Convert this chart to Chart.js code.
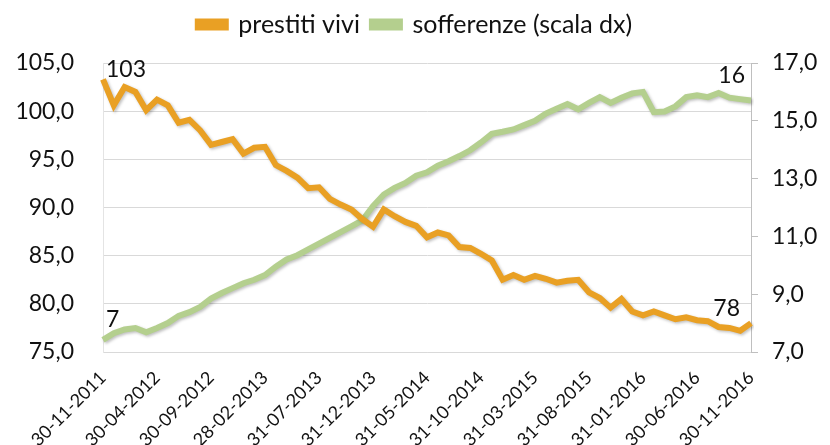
<!DOCTYPE html>
<html>
<head>
<meta charset="utf-8">
<script src="https://cdn.jsdelivr.net/npm/chart.js@4"></script>
<style>
  html, body { margin: 0; padding: 0; background: #fff; }
  #wrap { width: 830px; height: 445px; }
</style>
</head>
<body>
<div id="wrap"><canvas id="chart" width="830" height="445"></canvas></div>
<script>
// month-end dates, nov 2011 -> nov 2016
const months = [
  "30-11-2011", "31-12-2011", "31-01-2012", "29-02-2012", "31-03-2012", "30-04-2012",
  "31-05-2012", "30-06-2012", "31-07-2012", "31-08-2012", "30-09-2012", "31-10-2012",
  "30-11-2012", "31-12-2012", "31-01-2013", "28-02-2013", "31-03-2013", "30-04-2013",
  "31-05-2013", "30-06-2013", "31-07-2013", "31-08-2013", "30-09-2013", "31-10-2013",
  "30-11-2013", "31-12-2013", "31-01-2014", "28-02-2014", "31-03-2014", "30-04-2014",
  "31-05-2014", "30-06-2014", "31-07-2014", "31-08-2014", "30-09-2014", "31-10-2014",
  "30-11-2014", "31-12-2014", "31-01-2015", "28-02-2015", "31-03-2015", "30-04-2015",
  "31-05-2015", "30-06-2015", "31-07-2015", "31-08-2015", "30-09-2015", "31-10-2015",
  "30-11-2015", "31-12-2015", "31-01-2016", "29-02-2016", "31-03-2016", "30-04-2016",
  "31-05-2016", "30-06-2016", "31-07-2016", "31-08-2016", "30-09-2016", "31-10-2016",
  "30-11-2016"
];

// only every 5th month gets a label
const tickLabels = [
  "30-11-2011", "30-04-2012", "30-09-2012", "28-02-2013", "31-07-2013", "31-12-2013",
  "31-05-2014", "31-10-2014", "31-03-2015", "31-08-2015", "31-01-2016", "30-06-2016",
  "30-11-2016"
];

const prestitiVivi = [
  103.3, 100.6, 102.5, 102.0, 100.1, 101.2, 100.6, 98.8, 99.1, 98.0,
  96.5, 96.8, 97.1, 95.6, 96.2, 96.3, 94.4, 93.8, 93.1, 92.0,
  92.1, 90.9, 90.3, 89.8, 88.8, 88.0, 89.8, 89.1, 88.5, 88.1,
  86.9, 87.4, 87.1, 85.9, 85.8, 85.2, 84.5, 82.5, 83.0, 82.5,
  82.9, 82.6, 82.2, 82.4, 82.5, 81.2, 80.6, 79.6, 80.5, 79.2,
  78.8, 79.2, 78.8, 78.4, 78.6, 78.3, 78.2, 77.6, 77.5, 77.2,
  78.0
];

const sofferenze = [
  7.42, 7.65, 7.78, 7.83, 7.68, 7.83, 8.0, 8.25, 8.38, 8.56,
  8.85, 9.04, 9.21, 9.38, 9.5, 9.66, 9.95, 10.2, 10.35, 10.55,
  10.75, 10.95, 11.15, 11.35, 11.55, 12.05, 12.45, 12.68, 12.85, 13.1,
  13.22, 13.45, 13.6, 13.78, 13.98, 14.25, 14.55, 14.62, 14.7, 14.85,
  15.0, 15.25, 15.42, 15.58, 15.4, 15.62, 15.82, 15.62, 15.8, 15.95,
  16.0, 15.3, 15.32, 15.5, 15.82, 15.88, 15.82, 15.96, 15.8, 15.75,
  15.7
];

const ORANGE = "#E9A024";
const GREEN = "#B4CF8E";
const FONT = "Lato, 'Open Sans', sans-serif";

const fmt = v => v.toFixed(1).replace(".", ",");

// soft shadow under the lines, like the excel original
const lineShadow = {
  id: "lineShadow",
  beforeDatasetDraw(chart) {
    const ctx = chart.ctx;
    ctx.save();
    ctx.shadowColor = "rgba(0,0,0,0.25)";
    ctx.shadowBlur = 3;
    ctx.shadowOffsetX = 1.5;
    ctx.shadowOffsetY = 1.5;
  },
  afterDatasetDraw(chart) {
    chart.ctx.restore();
  },
};

// extra room under the legend
const legendGap = {
  id: "legendGap",
  beforeLayout(chart) {
    const lg = chart.legend;
    if (!lg || lg._gapDone) return;
    const fit = lg.fit;
    lg.fit = function () {
      fit.call(this);
      this.height += 16;
    };
    lg._gapDone = true;
  },
};

// first / last value labels
const endLabels = {
  id: "endLabels",
  afterDatasetsDraw(chart) {
    const ctx = chart.ctx;
    const last = months.length - 1;
    const p0 = chart.getDatasetMeta(0).data;
    const p1 = chart.getDatasetMeta(1).data;
    ctx.save();
    ctx.font = "23px " + FONT;
    ctx.fillStyle = "#111";
    ctx.textBaseline = "alphabetic";
    ctx.textAlign = "left";
    ctx.fillText(Math.round(prestitiVivi[0]), p0[0].x + 3, p0[0].y - 2);
    ctx.fillText(Math.round(sofferenze[0]), p1[0].x + 3, p1[0].y - 13);
    ctx.textAlign = "right";
    ctx.fillText(Math.round(prestitiVivi[last]), p0[last].x - 11, p0[last].y - 7);
    ctx.fillText(Math.round(sofferenze[last]), p1[last].x - 6, p1[last].y - 18);
    ctx.restore();
  },
};

new Chart(document.getElementById("chart"), {
  type: "line",
  data: {
    labels: months,
    datasets: [
      {
        label: "prestiti vivi",
        data: prestitiVivi,
        borderColor: ORANGE,
        backgroundColor: ORANGE,
        borderWidth: 6,
        pointRadius: 0,
        tension: 0,
        yAxisID: "y",
      },
      {
        label: "sofferenze (scala dx)",
        data: sofferenze,
        borderColor: GREEN,
        backgroundColor: GREEN,
        borderWidth: 6,
        pointRadius: 0,
        tension: 0,
        yAxisID: "y1",
      },
    ],
  },
  options: {
    responsive: false,
    animation: false,
    layout: { padding: { top: 0, right: 0, bottom: 0, left: 0 } },
    plugins: {
      tooltip: { enabled: false },
      legend: {
        position: "top",
        labels: {
          font: { family: FONT, size: 25 },
          color: "#111",
          boxWidth: 28,
          boxHeight: 6,
          padding: 12,
        },
      },
    },
    scales: {
      x: {
        offset: false,
        grid: { display: false },
        border: { display: true, color: "#D9D9D9" },
        ticks: {
          autoSkip: false,
          maxRotation: 45,
          minRotation: 45,
          padding: 7,
          color: "#111",
          font: { family: FONT, size: 18 },
          callback: (v, i) => (i % 5 === 0 ? tickLabels[i / 5] : ""),
        },
        afterFit: s => { s.height = 93; },
      },
      y: {
        position: "left",
        min: 75,
        max: 105,
        grid: { color: "#D9D9D9", drawTicks: false },
        border: { display: true, color: "#E4E4E4" },
        ticks: {
          stepSize: 5,
          padding: 29,
          color: "#111",
          font: { family: FONT, size: 23 },
          callback: v => fmt(v),
        },
        afterFit: s => { s.width = 103; },
      },
      y1: {
        position: "right",
        min: 7,
        max: 17,
        grid: { drawOnChartArea: false, color: "#BFBFBF", tickLength: 7 },
        border: { display: true, color: "#BFBFBF" },
        ticks: {
          stepSize: 2,
          padding: 14,
          color: "#111",
          font: { family: FONT, size: 23 },
          callback: v => fmt(v),
        },
        afterFit: s => { s.width = 79; },
      },
    },
  },
  plugins: [lineShadow, legendGap, endLabels],
});
</script>
</body>
</html>
